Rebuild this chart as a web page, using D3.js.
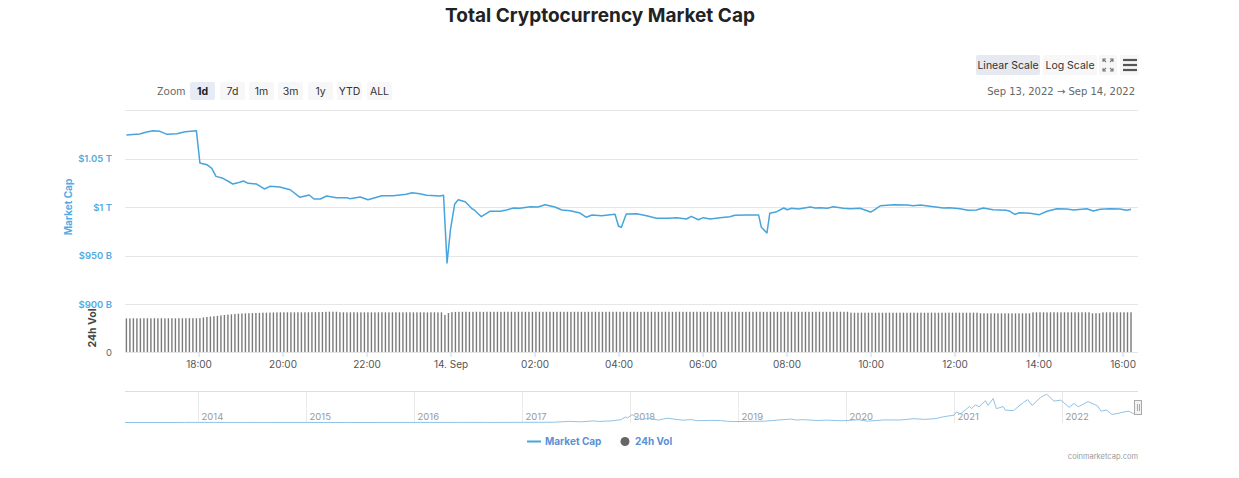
<!DOCTYPE html>
<html>
<head>
<meta charset="utf-8">
<script src="https://cdn.jsdelivr.net/npm/d3@7/dist/d3.min.js"></script>
<style>
  html, body { margin: 0; padding: 0; background: #fff; }
  svg { display: block; font-family: Inter, "Noto Sans", sans-serif; }
</style>
</head>
<body>
<svg id="chart" width="1239" height="478"></svg>
<script>
// ---------------- DATA ----------------
const title = "Total Cryptocurrency Market Cap";
const zoomButtons = ["1d", "7d", "1m", "3m", "1y", "YTD", "ALL"];
const dateRangeText = "Sep 13, 2022  \u2192  Sep 14, 2022";

// Market cap (billions USD), Sep 13 -> Sep 14 2022 (times "MM-DD HH:MM")
const mcTimes = [
"09-13 16:17","09-13 16:26","09-13 16:36","09-13 16:46","09-13 16:55","09-13 17:05","09-13 17:15","09-13 17:29","09-13 17:41","09-13 17:57",
"09-13 18:02","09-13 18:12","09-13 18:19","09-13 18:25","09-13 18:35","09-13 18:49","09-13 18:59","09-13 19:04","09-13 19:11","09-13 19:23",
"09-13 19:34","09-13 19:42","09-13 19:56","09-13 20:11","09-13 20:25","09-13 20:38","09-13 20:45","09-13 20:54","09-13 21:03","09-13 21:17",
"09-13 21:32","09-13 21:36","09-13 21:51","09-13 22:02","09-13 22:22","09-13 22:38","09-13 22:57","09-13 23:05","09-13 23:16","09-13 23:26",
"09-13 23:45","09-13 23:50","09-13 23:55","09-14 00:00","09-14 00:06","09-14 00:11","09-14 00:21","09-14 00:30","09-14 00:35","09-14 00:44",
"09-14 00:56","09-14 01:11","09-14 01:20","09-14 01:30","09-14 01:39","09-14 01:54","09-14 02:05","09-14 02:15","09-14 02:29","09-14 02:39",
"09-14 02:51","09-14 03:05","09-14 03:14","09-14 03:22","09-14 03:36","09-14 03:48","09-14 03:55","09-14 04:00","09-14 04:04","09-14 04:11",
"09-14 04:26","09-14 04:40","09-14 04:54","09-14 05:11","09-14 05:23","09-14 05:37","09-14 05:44","09-14 05:54","09-14 06:01","09-14 06:11",
"09-14 06:25","09-14 06:39","09-14 06:46","09-14 07:03","09-14 07:20","09-14 07:24","09-14 07:32","09-14 07:36","09-14 07:46","09-14 07:56",
"09-14 08:01","09-14 08:07","09-14 08:17","09-14 08:34","09-14 08:41","09-14 08:48","09-14 08:58","09-14 09:07","09-14 09:21","09-14 09:31",
"09-14 09:45","09-14 10:00","09-14 10:04","09-14 10:14","09-14 10:33","09-14 10:52","09-14 11:01","09-14 11:11","09-14 11:30","09-14 11:44",
"09-14 11:53","09-14 12:08","09-14 12:19","09-14 12:31","09-14 12:41","09-14 12:55","09-14 13:14","09-14 13:19","09-14 13:26","09-14 13:33",
"09-14 13:48","09-14 14:01","09-14 14:12","09-14 14:26","09-14 14:40","09-14 14:50","09-14 15:09","09-14 15:18","09-14 15:28","09-14 15:42",
"09-14 15:56","09-14 16:06","09-14 16:12"
];
const mcValues = [
1074.2,1074.7,1075.3,1077.3,1078.7,1078.0,1074.9,1075.6,1077.6,1078.7,
1045.4,1043.6,1039.9,1031.6,1029.6,1023.7,1025.5,1026.8,1024.4,1023.7,
1018.6,1021.3,1020.6,1017.8,1010.0,1012.4,1008.2,1008.2,1011.3,1009.6,
1009.6,1008.6,1010.3,1007.5,1011.6,1011.6,1013.1,1014.7,1013.7,1012.1,
1011.3,1012.1,942.3,977.3,1003.1,1007.5,1005.5,998.7,996.2,990.0,
995.6,995.6,996.9,999.0,998.7,1000.3,1000.0,1002.4,1000.0,996.9,
996.2,993.8,989.4,991.8,991.0,992.1,992.5,980.1,979.1,992.8,
993.1,991.0,988.4,988.4,989.0,987.6,990.4,986.9,989.0,987.6,
989.0,990.0,991.4,991.8,991.8,979.1,973.2,993.5,995.2,999.0,
997.2,998.7,997.9,1000.0,999.0,999.3,998.7,1000.3,998.7,998.2,
998.7,994.8,996.2,1001.3,1002.4,1002.1,1001.3,1002.1,1000.3,999.0,
999.3,998.2,996.6,996.9,999.0,997.2,996.6,995.6,992.5,994.1,
993.5,992.1,995.6,998.2,997.9,996.9,998.2,995.9,997.6,998.2,
997.9,996.6,997.6
];

// 24h volume (billions USD), one bar every 5 minutes starting Sep 13 16:17
const volStart = "09-13 16:17";
const volValues = [
84.2,84.0,84.3,84.1,84.2,84.4,84.3,84.2,84.5,84.3,84.4,84.2,
84.3,84.4,84.2,84.5,84.3,84.4,84.6,84.5,84.4,84.7,86.5,87.6,
88.6,89.5,90.4,91.6,92.5,93.4,94.2,95.0,95.8,96.3,96.7,97.0,
97.3,97.6,97.9,98.2,98.4,98.6,98.9,99.1,99.2,99.2,99.3,99.2,
99.2,99.3,99.1,99.2,99.3,99.4,99.5,99.7,99.9,100.4,100.8,100.7,
100.6,99.4,99.2,99.1,99.2,99.3,99.2,99.1,99.2,99.3,99.2,99.1,
99.2,99.3,99.2,99.1,99.2,99.3,99.2,99.2,99.3,99.2,99.1,99.2,
99.3,99.2,99.1,99.2,99.3,99.1,99.2,92.5,97.5,99.6,100.2,100.5,
100.5,100.6,100.4,100.5,100.6,100.5,100.4,100.6,100.5,100.5,100.6,100.4,
100.5,100.6,100.5,100.4,100.5,100.6,100.5,100.5,100.4,100.6,100.5,100.5,
100.6,100.5,100.4,100.5,100.6,100.5,100.5,100.4,100.5,100.6,100.5,100.4,
100.5,100.5,100.6,100.5,100.4,100.5,100.6,100.5,100.5,100.4,100.6,100.5,
100.5,100.6,100.5,100.4,100.5,100.5,100.6,100.5,100.4,100.5,100.6,100.5,
100.4,100.5,100.6,100.5,100.5,100.4,100.5,100.6,100.5,100.5,100.4,100.6,
100.5,100.6,100.5,100.4,100.5,100.6,100.5,100.5,100.4,100.5,100.6,100.5,
100.6,100.5,100.4,100.5,100.6,100.5,100.5,100.4,100.5,100.6,100.5,100.4,
100.5,100.5,100.6,100.5,100.4,100.5,100.6,100.5,100.5,100.4,100.6,100.5,
100.6,100.5,100.7,98.4,98.3,98.2,98.3,98.2,98.4,98.3,98.2,98.3,
98.3,98.2,98.4,98.3,98.2,98.3,98.3,98.2,98.4,98.3,98.2,98.3,
98.2,98.3,98.4,98.2,98.3,98.3,98.2,98.4,98.3,98.2,98.3,98.3,
98.2,98.3,98.4,98.2,96.8,96.7,96.6,96.7,96.8,96.7,96.6,96.7,
96.7,96.8,96.6,96.7,96.7,96.8,96.7,99.1,99.2,99.3,99.2,99.1,
99.2,99.3,99.2,99.1,99.2,99.3,99.2,99.2,99.1,99.3,99.2,99.2,
96.8,96.9,97.0,99.1,99.2,99.3,99.2,99.1,99.2,99.3,99.2,99.2
];

// Y-axis ticks (billions)
const mcTicks = [900, 950, 1000, 1050];
const mcTickLabels = ["$900 B", "$950 B", "$1 T", "$1.05 T"];

// Navigator: total market cap history (trillions USD)
const navDates = [
"2013-04-28","2013-07-01","2013-10-01","2013-11-15","2013-12-04","2014-01-01","2014-03-01","2014-06-01","2014-09-01","2014-12-01",
"2015-03-01","2015-06-01","2015-09-01","2015-12-01","2016-03-01","2016-06-15","2016-09-01","2016-12-01","2017-01-05","2017-03-01",
"2017-04-15","2017-05-25","2017-06-12","2017-07-16","2017-08-31","2017-09-15","2017-10-31","2017-11-30","2017-12-17","2017-12-22",
"2018-01-07","2018-02-06","2018-03-05","2018-04-06","2018-05-05","2018-06-28","2018-07-24","2018-08-14","2018-09-30","2018-11-01",
"2018-11-25","2018-12-15","2019-01-31","2019-03-31","2019-05-14","2019-06-26","2019-07-17","2019-08-06","2019-09-25","2019-10-27",
"2019-12-17","2020-02-13","2020-03-13","2020-05-08","2020-07-01","2020-08-17","2020-09-23","2020-10-31","2020-11-24","2020-12-31",
"2021-01-08","2021-01-22","2021-02-21","2021-02-28","2021-03-13","2021-03-25","2021-04-16","2021-04-25","2021-05-12","2021-05-23",
"2021-06-15","2021-06-22","2021-07-20","2021-08-23","2021-09-06","2021-09-21","2021-10-20","2021-11-09","2021-12-04","2021-12-27",
"2022-01-24","2022-02-10","2022-02-24","2022-03-29","2022-04-30","2022-05-12","2022-05-31","2022-06-18","2022-07-08","2022-07-30",
"2022-08-14","2022-08-27","2022-09-13"
];
const navValues = [
0.0015,0.0011,0.0016,0.005,0.015,0.010,0.009,0.009,0.007,0.005,
0.004,0.0035,0.0035,0.0065,0.0075,0.012,0.010,0.012,0.017,0.022,
0.028,0.09,0.115,0.07,0.17,0.11,0.17,0.30,0.60,0.47,
0.83,0.30,0.45,0.25,0.45,0.24,0.31,0.19,0.22,0.21,
0.12,0.10,0.11,0.14,0.25,0.36,0.26,0.30,0.21,0.25,
0.18,0.29,0.14,0.27,0.26,0.40,0.33,0.41,0.60,0.77,
1.10,0.90,1.68,1.45,1.86,1.65,2.28,1.80,2.52,1.45,
1.68,1.30,1.25,2.12,2.40,1.80,2.65,2.97,2.25,2.35,
1.60,2.00,1.65,2.20,1.75,1.20,1.30,0.85,0.95,1.12,
1.20,0.96,1.07
];
const navYears = ["2014","2015","2016","2017","2018","2019","2020","2021","2022"];

const legendItems = ["Market Cap", "24h Vol"];

// ---------------- DRAW ----------------
const svg = d3.select("#chart");
const parseT = d3.timeParse("%Y-%m-%d %H:%M");
const parseD = d3.timeParse("%Y-%m-%d");
const tp = s => parseT("2022-" + s);

const lineColor = "#47a4dd";
const labelBlue = "#52abe3";

const left = 125, right = 1138;
const x = d3.scaleTime()
  .domain([tp("09-13 16:15"), tp("09-14 16:22")])
  .range([left, right]);
const yMc = d3.scaleLinear().domain([900, 1100]).range([304, 110]);
const yVol = d3.scaleLinear().domain([0, 120]).range([352, 304]);

// Title
svg.append("text").attr("x", 600).attr("y", 22).attr("text-anchor", "middle")
  .attr("font-size", 19).attr("font-weight", 700).attr("fill", "#222").text(title);

// Scale buttons
const scaleBtns = [{t: "Linear Scale", x: 976, w: 64, fill: "#e6e9ef"}, {t: "Log Scale", x: 1043, w: 54, fill: "#f7f7f8"}];
scaleBtns.forEach(b => {
  svg.append("rect").attr("x", b.x).attr("y", 55).attr("width", b.w).attr("height", 20).attr("rx", 2).attr("fill", b.fill);
  svg.append("text").attr("x", b.x + b.w / 2).attr("y", 69).attr("text-anchor", "middle")
    .attr("font-size", 10.5).attr("fill", "#333").text(b.t);
});
// fullscreen icon
svg.append("rect").attr("x", 1099).attr("y", 55).attr("width", 18).attr("height", 20).attr("fill", "#f7f7f8");
const fs = svg.append("g").attr("stroke", "#777").attr("stroke-width", 1.1).attr("fill", "none");
[[1103,59,1,1],[1113,59,-1,1],[1103,71,1,-1],[1113,71,-1,-1]].forEach(([cx,cy,dx,dy]) => {
  fs.append("path").attr("d", `M${cx},${cy+3*dy}V${cy}H${cx+3*dx}M${cx},${cy}L${cx+3*dx},${cy+3*dy}`);
});
// hamburger
svg.append("rect").attr("x", 1120).attr("y", 55).attr("width", 19).attr("height", 20).attr("fill", "#f7f7f8");
[60, 65, 70].forEach(yy => svg.append("line").attr("x1", 1123).attr("x2", 1137).attr("y1", yy).attr("y2", yy)
  .attr("stroke", "#555").attr("stroke-width", 2.2));

// Zoom row
svg.append("text").attr("x", 157).attr("y", 95).attr("font-size", 10.5).attr("fill", "#666").text("Zoom");
const zx = [190, 220, 249, 278, 308, 337, 367];
zoomButtons.forEach((t, i) => {
  svg.append("rect").attr("x", zx[i]).attr("y", 82).attr("width", 25).attr("height", 18).attr("rx", 2)
    .attr("fill", i === 0 ? "#e6ebf5" : "#f7f7f8");
  svg.append("text").attr("x", zx[i] + 12.5).attr("y", 95).attr("text-anchor", "middle")
    .attr("font-size", 10.5).attr("font-weight", i === 0 ? 700 : 400).attr("fill", i === 0 ? "#222" : "#333").text(t);
});
svg.append("text").attr("x", 1135).attr("y", 95).attr("text-anchor", "end")
  .attr("fill", "#666").attr("font-family", "'DejaVu Sans', sans-serif").attr("font-size", 10).text(dateRangeText);

// Gridlines (main pane)
const grid = svg.append("g").attr("stroke", "#e6e6e6").attr("stroke-width", 1);
[900, 950, 1000, 1050, 1100].forEach(v => grid.append("line")
  .attr("x1", left).attr("x2", right).attr("y1", Math.round(yMc(v)) + 0.5).attr("y2", Math.round(yMc(v)) + 0.5));

// Y labels (market cap)
mcTicks.forEach((v, i) => svg.append("text").attr("x", 112).attr("y", yMc(v) + 3.5).attr("text-anchor", "end")
  .attr("font-size", 9.5).attr("font-weight", 600).attr("fill", labelBlue).text(mcTickLabels[i]));
svg.append("text").attr("transform", `translate(72,${yMc(1000)}) rotate(-90)`).attr("text-anchor", "middle")
  .attr("font-size", 10).attr("font-weight", 700).attr("fill", labelBlue).text("Market Cap");
svg.append("text").attr("transform", `translate(96,328) rotate(-90)`).attr("text-anchor", "middle")
  .attr("font-size", 10.5).attr("font-weight", 700).attr("fill", "#444").text("24h Vol");
svg.append("text").attr("x", 112).attr("y", yVol(0) + 3.5).attr("text-anchor", "end")
  .attr("font-size", 9.5).attr("fill", "#666").text("0");

// Volume bars
const vStart = tp(volStart);
const volData = volValues.map((v, i) => ({t: d3.timeMinute.offset(vStart, 5 * i), v}));
svg.append("g").selectAll("rect").data(volData).join("rect")
  .attr("x", d => x(d.t) - 0.7).attr("width", 1.4)
  .attr("y", d => yVol(d.v)).attr("height", d => yVol(0) - yVol(d.v))
  .attr("fill", "#7a7a7a");

// x-axis baseline
svg.append("line").attr("x1", left).attr("x2", right).attr("y1", 352.5).attr("y2", 352.5)
  .attr("stroke", "#e6e6e6");

// x axis
const fmt = d => (d.getHours() === 0 ? d3.timeFormat("%-d. %b")(d) : d3.timeFormat("%H:%M")(d));
const xAxis = d3.axisBottom(x).ticks(d3.timeHour.every(2)).tickFormat(fmt).tickSize(5).tickPadding(4);
const gx = svg.append("g").attr("transform", "translate(0,352)").call(xAxis);
gx.select(".domain").remove();
gx.selectAll(".tick line").attr("stroke", "#ccd6eb");
gx.selectAll(".tick text").attr("fill", "#555").attr("font-size", 10).attr("font-family", "Inter, sans-serif");

// Market cap line
const mcData = mcTimes.map((t, i) => ({t: tp(t), v: mcValues[i]}));
svg.append("path").datum(mcData)
  .attr("d", d3.line().x(d => x(d.t)).y(d => yMc(d.v)))
  .attr("fill", "none").attr("stroke", lineColor).attr("stroke-width", 1.5).attr("stroke-linejoin", "round");

// Navigator
const nx = d3.scaleTime().domain([parseD("2013-04-28"), parseD("2022-09-14")]).range([left, right]);
const ny = d3.scaleLinear().domain([0, 3.1]).range([422.5, 393]);
svg.append("line").attr("x1", left).attr("x2", right).attr("y1", 391.5).attr("y2", 391.5).attr("stroke", "#ddd");
const navG = svg.append("g");
navYears.forEach(yr => {
  const xx = Math.round(nx(parseD(yr + "-01-01"))) + 0.5;
  navG.append("line").attr("x1", xx).attr("x2", xx).attr("y1", 392).attr("y2", 423).attr("stroke", "#e9e9e9");
  navG.append("text").attr("x", xx + 3).attr("y", 420).attr("font-size", 9.5).attr("fill", "#999").text(yr);
});
const navData = navDates.map((d, i) => ({t: parseD(d), v: navValues[i]}));
svg.append("path").datum(navData)
  .attr("d", d3.line().x(d => nx(d.t)).y(d => ny(d.v)))
  .attr("fill", "none").attr("stroke", "#8fc3e8").attr("stroke-width", 1);
// handle
svg.append("rect").attr("x", 1134.5).attr("y", 400.5).attr("width", 7).attr("height", 14)
  .attr("fill", "#f2f2f2").attr("stroke", "#aaa");
[1137, 1139].forEach(xx => svg.append("line").attr("x1", xx + 0.5).attr("x2", xx + 0.5).attr("y1", 404).attr("y2", 411).attr("stroke", "#aaa"));

// Legend
svg.append("line").attr("x1", 527).attr("x2", 541).attr("y1", 441.5).attr("y2", 441.5).attr("stroke", lineColor).attr("stroke-width", 2);
svg.append("text").attr("x", 545).attr("y", 445).attr("font-size", 10).attr("font-weight", 700).attr("fill", "#5b8fd6").text(legendItems[0]);
svg.append("circle").attr("cx", 625).attr("cy", 441.5).attr("r", 4.5).attr("fill", "#666");
svg.append("text").attr("x", 635).attr("y", 445).attr("font-size", 10).attr("font-weight", 700).attr("fill", "#5b8fd6").text(legendItems[1]);

// Credit
svg.append("text").attr("x", 1138).attr("y", 459).attr("text-anchor", "end").attr("font-size", 7.5)
  .attr("fill", "#999").text("coinmarketcap.com");
</script>
</body>
</html>
